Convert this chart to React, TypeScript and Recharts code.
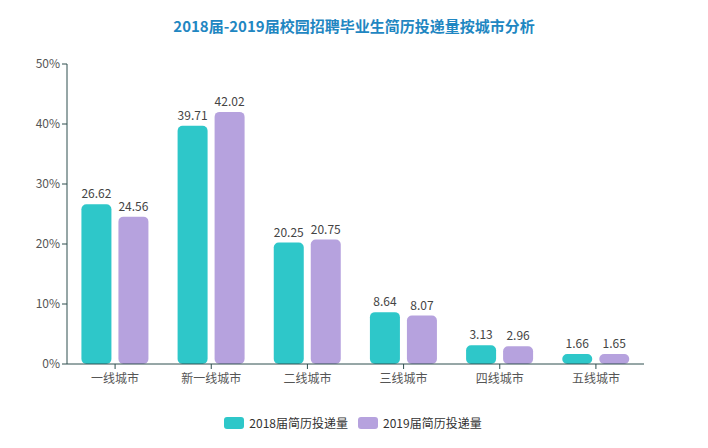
import { BarChart, Bar, XAxis, YAxis, LabelList } from "recharts";

const cities = ["一线城市", "新一线城市", "二线城市", "三线城市", "四线城市", "五线城市"];
const y2018 = [26.62, 39.71, 20.25, 8.64, 3.13, 1.66];
const y2019 = [24.56, 42.02, 20.75, 8.07, 2.96, 1.65];
const yTicks = [0, 10, 20, 30, 40, 50];
const seriesNames = ["2018届简历投递量", "2019届简历投递量"];
const colors = ["#2ec7c9", "#b6a2de"];

const data = cities.map((city, i) => ({
  city,
  a: y2018[i],
  b: y2019[i],
}));

const FONT = "'Microsoft YaHei', 'Noto Sans CJK SC', sans-serif";

export default function App() {
  return (
    <div
      style={{
        position: "relative",
        width: 706,
        height: 444,
        margin: -8,
        border: "1px solid #d8d8d8",
        background: "#fff",
        fontFamily: FONT,
      }}
    >
      <div
        style={{
          position: "absolute",
          top: 14,
          left: 0,
          width: 706,
          textAlign: "center",
          fontSize: 15,
          fontWeight: "bold",
          color: "#1f87c2",
        }}
      >
        2018届-2019届校园招聘毕业生简历投递量按城市分析
      </div>
      <BarChart
        width={706}
        height={444}
        data={data}
        margin={{ top: 63, right: 63, bottom: 51, left: 0 }}
        barCategoryGap="15%"
        barGap={7}
      >
        <XAxis
          dataKey="city"
          height={30}
          tick={{ fill: "#555", fontSize: 12 }}
          axisLine={{ stroke: "#2f4f4f" }}
          tickLine={{ stroke: "#2f4f4f" }}
          tickSize={5}
          tickMargin={5}
          interval={0}
        />
        <YAxis
          width={66}
          domain={[0, 50]}
          ticks={yTicks}
          tickFormatter={(v) => v + "%"}
          tick={{ fill: "#555", fontSize: 12 }}
          axisLine={{ stroke: "#2f4f4f" }}
          tickLine={{ stroke: "#2f4f4f" }}
          tickSize={5}
        />
        <Bar dataKey="a" name={seriesNames[0]} fill={colors[0]} radius={[5, 5, 5, 5]} isAnimationActive={false}>
          <LabelList dataKey="a" position="top" fill="#444" fontSize={12} offset={6} />
        </Bar>
        <Bar dataKey="b" name={seriesNames[1]} fill={colors[1]} radius={[5, 5, 5, 5]} isAnimationActive={false}>
          <LabelList dataKey="b" position="top" fill="#444" fontSize={12} offset={6} />
        </Bar>
      </BarChart>
      <div
        style={{
          position: "absolute",
          top: 413,
          left: 4,
          width: 706,
          display: "flex",
          justifyContent: "center",
          fontSize: 12,
          color: "#333",
        }}
      >
        {seriesNames.map((n, i) => (
          <div key={n} style={{ display: "flex", alignItems: "center", marginRight: 10 }}>
            <span
              style={{
                display: "inline-block",
                width: 20,
                height: 12,
                borderRadius: 3,
                background: colors[i],
                marginRight: 5,
              }}
            />
            {n}
          </div>
        ))}
      </div>
    </div>
  );
}
